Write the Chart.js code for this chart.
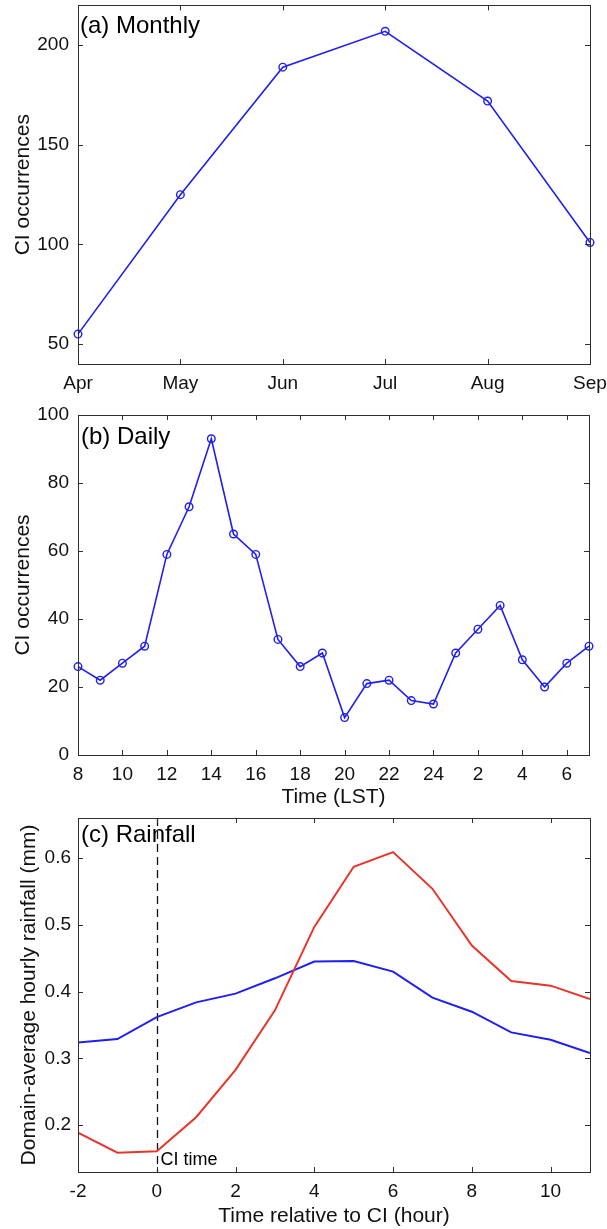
<!DOCTYPE html>
<html>
<head>
<meta charset="utf-8">
<script src="https://cdn.jsdelivr.net/npm/chart.js@4.4.1/dist/chart.umd.min.js"></script>
<style>
  html, body { margin: 0; padding: 0; background: #fff; }
  #wrap { position: relative; width: 607px; height: 1229px; }
  canvas { position: absolute; left: 0; }
</style>
</head>
<body>
<div id="wrap">
  <canvas id="cMonthly" width="607" height="400" style="top:0px"></canvas>
  <canvas id="cDaily" width="607" height="410" style="top:400px"></canvas>
  <canvas id="cRain" width="607" height="419" style="top:810px"></canvas>
</div>
<script>
// ---- data ----
const months = ['Apr', 'May', 'Jun', 'Jul', 'Aug', 'Sep'];
const monthlyCI = [55, 125, 189, 207, 172, 101];

// local solar time, running past midnight (25 = 1 LST, ...)
const hoursLST = [8, 9, 10, 11, 12, 13, 14, 15, 16, 17, 18, 19, 20, 21, 22, 23, 24, 25, 26, 27, 28, 29, 30, 31];
const dailyCI = [26, 22, 27, 32, 59, 73, 93, 65, 59, 34, 26, 30, 11, 21, 22, 16, 15, 30, 37, 44, 28, 20, 27, 32];

const relHours = [-2, -1, 0, 1, 2, 3, 4, 5, 6, 7, 8, 9, 10, 11];
const rainRed = [0.189, 0.159, 0.161, 0.212, 0.283, 0.372, 0.497, 0.587, 0.609, 0.554, 0.469, 0.416, 0.409, 0.389];
const rainBlue = [0.324, 0.329, 0.362, 0.384, 0.397, 0.420, 0.445, 0.446, 0.430, 0.391, 0.370, 0.339, 0.328, 0.308];
const ciTime = 0;

// ---- styling ----
const FONT = "'Liberation Sans', Arial, Helvetica, sans-serif";
const BLUE = '#1f1ff2';
const RED = '#e8352c';
const AXIS = '#2e2e2e';

Chart.defaults.font.family = FONT;
Chart.defaults.color = '#111';
Chart.defaults.animation = false;

// scale box sizes are fixed so the three plot areas line up
function fixSize(size, horizontal) {
  return function (scale) {
    if (horizontal) scale.height = size; else scale.width = size;
    scale.paddingTop = 0; scale.paddingBottom = 0;
    scale.paddingLeft = 0; scale.paddingRight = 0;
  };
}

// box around the plot area, inward tick marks on all four sides, panel label
const axesBox = {
  id: 'axesBox',
  afterDatasetsDraw(chart, args, opts) {
    const { ctx, chartArea: a } = chart;
    const x = chart.scales.x, y = chart.scales.y;
    const L = 5;
    ctx.save();
    ctx.strokeStyle = AXIS;
    ctx.lineWidth = 1;
    ctx.beginPath();
    x.ticks.forEach((t, i) => {
      const px = Math.round(x.getPixelForTick(i)) + 0.5;
      ctx.moveTo(px, a.bottom); ctx.lineTo(px, a.bottom - L);
      ctx.moveTo(px, a.top); ctx.lineTo(px, a.top + L);
    });
    y.ticks.forEach((t, i) => {
      const py = Math.round(y.getPixelForTick(i)) + 0.5;
      ctx.moveTo(a.left, py); ctx.lineTo(a.left + L, py);
      ctx.moveTo(a.right, py); ctx.lineTo(a.right - L, py);
    });
    ctx.stroke();
    ctx.strokeRect(Math.round(a.left) + 0.5, Math.round(a.top) + 0.5,
                   Math.round(a.right - a.left), Math.round(a.bottom - a.top));
    if (opts.label) {
      ctx.fillStyle = '#000';
      ctx.font = '24px ' + FONT;
      ctx.textAlign = 'left';
      ctx.textBaseline = 'middle';
      ctx.fillText(opts.label, a.left + opts.dx, a.top + opts.dy);
    }
    ctx.restore();
  }
};

// dashed vertical marker at the convective-initiation time
const ciMarker = {
  id: 'ciMarker',
  beforeDatasetsDraw(chart, args, opts) {
    if (opts.value === undefined) return;
    const { ctx, chartArea: a } = chart;
    const px = Math.round(chart.scales.x.getPixelForValue(opts.value)) + 0.5;
    ctx.save();
    ctx.strokeStyle = '#111';
    ctx.lineWidth = 1.3;
    ctx.setLineDash([8, 5]);
    ctx.beginPath();
    ctx.moveTo(px, a.top);
    ctx.lineTo(px, a.bottom);
    ctx.stroke();
    ctx.setLineDash([]);
    ctx.fillStyle = '#000';
    ctx.font = '18px ' + FONT;
    ctx.textAlign = 'left';
    ctx.textBaseline = 'bottom';
    ctx.fillText(opts.text, px + 3, a.bottom - 3);
    ctx.restore();
  }
};

const tickFont = { size: 19 };
const titleFont = { size: 21 };

// ---- (a) Monthly ----
new Chart(document.getElementById('cMonthly'), {
  type: 'line',
  data: {
    labels: months,
    datasets: [{
      data: monthlyCI,
      borderColor: BLUE, borderWidth: 1.6,
      pointStyle: 'circle', pointRadius: 3.8, pointBorderWidth: 1.4,
      pointBorderColor: BLUE, pointBackgroundColor: 'rgba(0,0,0,0)',
      tension: 0, clip: false
    }]
  },
  options: {
    responsive: false,
    layout: { padding: { top: 5, right: 17, left: 0, bottom: 0 } },
    plugins: {
      legend: { display: false }, tooltip: { enabled: false },
      axesBox: { label: '(a) Monthly', dx: 2, dy: 21 }
    },
    scales: {
      x: {
        type: 'category', offset: false,
        grid: { display: false, drawTicks: false }, border: { display: false },
        ticks: { font: tickFont, padding: 8, autoSkip: false, maxRotation: 0 },
        afterFit: fixSize(36, true)
      },
      y: {
        min: 40, max: 220,
        grid: { display: false, drawTicks: false }, border: { display: false },
        ticks: { font: tickFont, padding: 9, stepSize: 50, includeBounds: false },
        title: { display: true, text: 'CI occurrences', font: titleFont, padding: { top: 11, bottom: 0 } },
        afterFit: fixSize(78, false)
      }
    }
  },
  plugins: [axesBox]
});

// ---- (b) Daily ----
new Chart(document.getElementById('cDaily'), {
  type: 'line',
  data: {
    datasets: [{
      data: hoursLST.map((h, i) => ({ x: h, y: dailyCI[i] })),
      borderColor: BLUE, borderWidth: 1.6,
      pointStyle: 'circle', pointRadius: 3.8, pointBorderWidth: 1.4,
      pointBorderColor: BLUE, pointBackgroundColor: 'rgba(0,0,0,0)',
      tension: 0, clip: false
    }]
  },
  options: {
    responsive: false,
    layout: { padding: { top: 15, right: 18, left: 0, bottom: 0 } },
    plugins: {
      legend: { display: false }, tooltip: { enabled: false },
      axesBox: { label: '(b) Daily', dx: 3, dy: 22 }
    },
    scales: {
      x: {
        type: 'linear', min: 8, max: 31,
        grid: { display: false, drawTicks: false }, border: { display: false },
        ticks: {
          font: tickFont, padding: 8, stepSize: 2, includeBounds: false, maxRotation: 0,
          callback: v => (v > 24 ? v - 24 : v)
        },
        title: { display: true, text: 'Time (LST)', font: titleFont, padding: { top: 0, bottom: 0 } },
        afterFit: fixSize(55, true)
      },
      y: {
        min: 0, max: 100,
        grid: { display: false, drawTicks: false }, border: { display: false },
        ticks: { font: tickFont, padding: 9, stepSize: 20 },
        title: { display: true, text: 'CI occurrences', font: titleFont, padding: { top: 11, bottom: 0 } },
        afterFit: fixSize(78, false)
      }
    }
  },
  plugins: [axesBox]
});

// ---- (c) Rainfall ----
new Chart(document.getElementById('cRain'), {
  type: 'line',
  data: {
    datasets: [
      {
        data: relHours.map((h, i) => ({ x: h, y: rainRed[i] })),
        borderColor: RED, borderWidth: 2, pointRadius: 0, tension: 0
      },
      {
        data: relHours.map((h, i) => ({ x: h, y: rainBlue[i] })),
        borderColor: BLUE, borderWidth: 2, pointRadius: 0, tension: 0
      }
    ]
  },
  options: {
    responsive: false,
    layout: { padding: { top: 8, right: 17, left: 0, bottom: 0 } },
    plugins: {
      legend: { display: false }, tooltip: { enabled: false },
      axesBox: { label: '(c) Rainfall', dx: 3, dy: 17 },
      ciMarker: { value: ciTime, text: 'CI time' }
    },
    scales: {
      x: {
        type: 'linear', min: -2, max: 11,
        grid: { display: false, drawTicks: false }, border: { display: false },
        ticks: { font: tickFont, padding: 8, stepSize: 2, includeBounds: false, maxRotation: 0 },
        title: { display: true, text: 'Time relative to CI (hour)', font: titleFont, padding: { top: 0, bottom: 0 } },
        afterFit: fixSize(57, true)
      },
      y: {
        min: 0.13, max: 0.66,
        grid: { display: false, drawTicks: false }, border: { display: false },
        ticks: { font: tickFont, padding: 7, stepSize: 0.1, includeBounds: false },
        title: { display: true, text: 'Domain-average hourly rainfall (mm)', font: titleFont, padding: { top: 17, bottom: 0 } },
        afterFit: fixSize(78, false)
      }
    }
  },
  plugins: [ciMarker, axesBox]
});
</script>
</body>
</html>
